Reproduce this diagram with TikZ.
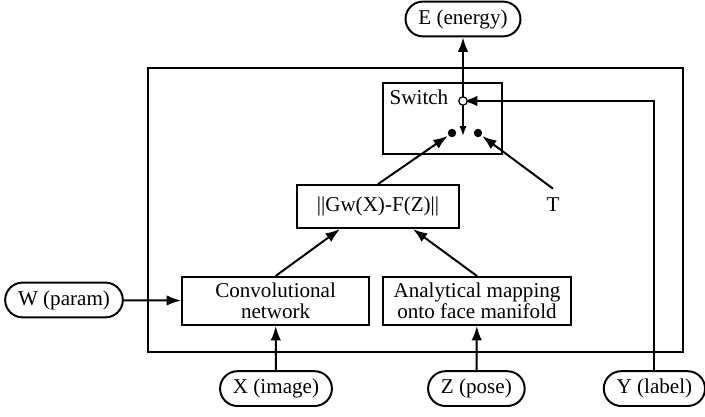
\documentclass[tikz,border=0pt]{standalone}
\usepackage{fontspec}
\setmainfont{Liberation Serif}
\usepackage{tikz}
\usetikzlibrary{arrows.meta}
\usetikzlibrary{positioning}
\usetikzlibrary{shapes.misc}
\tikzset{>={Latex[length=3.6mm, width=2.6mm]}}
\tikzset{every node/.style = {font=\fontsize{15}{15}\selectfont}}
\tikzset{pill/.style = {draw, rounded rectangle, inner xsep=0.25cm, minimum height=0.87cm}}
\tikzset{blockbox/.style = {draw, align=center, inner sep=0, minimum height=1.2cm}}
\tikzset{circ/.style = {fill, circle, inner sep = 0, minimum size = 6}}
\tikzset{ocirc/.style = {draw, fill=white, circle, line width=0.9pt, inner sep = 0, minimum size = 6}}

\begin{document}
\begin{tikzpicture}[line width=1.4pt]
      \useasboundingbox (0, 0) rectangle (17.625, 10.425);
      \draw (3.7, 1.625) rectangle (17.075, 8.725);
      \node [pill] (E) at (11.575, 9.95) {E (energy)};
      \node [draw, minimum width=2.975cm, minimum height=1.775cm] (switch) at (11.06, 7.46) {};
      \node [anchor=north west, inner sep=0.17cm] (swlabel) at (switch.north west) {Switch};
      \node [circ] (dl) at (11.3, 7.1) {};
      \node [circ] (dr) at (11.95, 7.1) {};
      \coordinate (arm) at (11.575, 7.03);
      \node [blockbox, minimum width=4.05cm, minimum height=1.075cm] (gw) at (9.45, 5.26) {||Gw(X)-F(Z)||};
      \node [inner sep=6pt] (T) at (13.825, 5.3) {T};
      \node [blockbox, minimum width=4.675cm] (conv) at (6.89, 2.9) {Convolutional\\network};
      \node [blockbox, minimum width=4.7cm] (ana) at (11.925, 2.9) {Analytical mapping\\onto face manifold};
      \node [pill] (W) at (1.6, 2.925) {W (param)};
      \node [pill] (X) at (6.9, 0.71) {X (image)};
      \node [pill] (Z) at (11.91, 0.71) {Z (pose)};
      \node [pill] (Y) at (16.36, 0.71) {Y (label)};
      \draw [->] (11.575, 7.9) -- (E);
      \draw [->, line width=1.1pt, >={Latex[length=2.4mm, width=1.8mm]}] (11.575, 7.9) -- (arm);
      \draw [->] (Y) |- (11.575, 7.9);
      \node [ocirc] (oc) at (11.575, 7.9) {};
      \draw [->] (gw.north) -- (dl);
      \draw [->] (T.north) -- (dr);
      \draw [->] (conv.north) -- ([xshift=-0.95cm]gw.south);
      \draw [->] (ana.north) -- ([xshift=0.875cm]gw.south);
      \draw [->] (W) -- (conv);
      \draw [->] (X) -- (conv);
      \draw [->] (Z) -- (ana);
    \end{tikzpicture}
\end{document}
